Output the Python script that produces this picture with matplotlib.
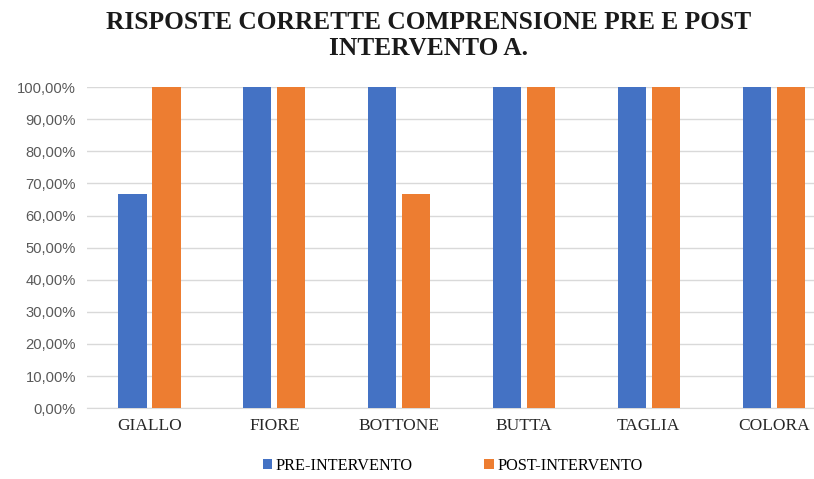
import matplotlib.pyplot as plt
import numpy as np
from matplotlib.ticker import FuncFormatter

categories = ["GIALLO", "FIORE", "BOTTONE", "BUTTA", "TAGLIA", "COLORA"]
pre_intervento = [66.67, 100, 100, 100, 100, 100]
post_intervento = [100, 100, 66.67, 100, 100, 100]
series_labels = ["PRE-INTERVENTO", "POST-INTERVENTO"]

BLUE = "#4472C4"
ORANGE = "#ED7D31"
GRID = "#D9D9D9"
TEXT = "#595959"

fig = plt.figure(figsize=(8.14, 4.79), dpi=100)
ax = fig.add_axes([0.107, 0.148, 0.92, 0.670])

x = np.arange(len(categories))
width = 0.225
offset = 0.136
ax.bar(x - offset, pre_intervento, width, color=BLUE, label=series_labels[0], zorder=3)
ax.bar(x + offset, post_intervento, width, color=ORANGE, label=series_labels[1], zorder=3)

ax.set_xlim(-0.5, len(categories) - 0.5)
ax.set_ylim(0, 100)
ax.set_yticks(np.arange(0, 101, 10))
ax.yaxis.set_major_formatter(FuncFormatter(lambda v, _: f"{v:.2f}%".replace(".", ",")))
ax.grid(axis="y", color=GRID, linewidth=1, zorder=0)

for side in ["top", "right", "left"]:
    ax.spines[side].set_visible(False)
ax.spines["bottom"].set_color(GRID)
ax.tick_params(axis="both", length=0)
ax.tick_params(axis="y", pad=8)
ax.tick_params(axis="x", pad=7)

ax.set_xticks(x)
ax.set_xticklabels(categories, family="Liberation Serif", fontsize=12.5, color="#262626")
for lab in ax.get_yticklabels():
    lab.set_family("Liberation Sans")
    lab.set_fontsize(10.6)
    lab.set_color(TEXT)

fig.text(0.527, 0.978, "RISPOSTE CORRETTE COMPRENSIONE PRE E POST\nINTERVENTO A.",
         ha="center", va="top", family="Liberation Serif", fontweight="bold",
         fontsize=18.3, linespacing=1.22, color="#1a1a1a")

fig.legend(loc="center", bbox_to_anchor=(0.556, 0.027), ncol=2, frameon=False,
           prop={"family": "Liberation Serif", "size": 11.7}, handlelength=0.6,
           handleheight=0.6, handletextpad=0.2, columnspacing=4.4)

fig.savefig("out.png", dpi=100)
